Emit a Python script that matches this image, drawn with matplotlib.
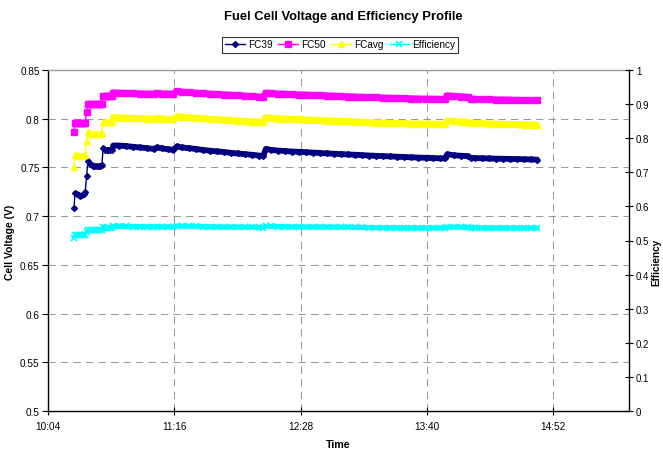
import matplotlib
matplotlib.use("Agg")
import matplotlib.pyplot as plt
import numpy as np

plt.rcParams['font.family'] = ['Liberation Sans', 'DejaVu Sans']

# ---------------- data ----------------
# sample times, minutes after 10:00
minutes = [19.6, 20.2, 21.2, 22.2, 23.2, 24.2, 25.2, 26.0, 26.8,
           27.6, 28.6, 29.6, 30.6, 31.6, 32.6, 33.6, 34.6, 35.5,
           36.2, 37.2, 38.2, 39.2, 40.2, 41.2, 42.0,
           45, 49, 53, 57, 61, 65,
           67, 70, 73, 76,
           78.5, 81, 85, 89,
           93, 97, 101, 105,
           109, 113, 117, 121,
           125, 127.5, 129, 132,
           136, 140, 144, 148,
           152, 156, 160, 164,
           168, 172, 176, 180,
           184, 188, 192, 196,
           200, 204, 208, 212,
           216, 220, 224, 228,
           231, 232.5, 236, 240,
           244, 246, 248, 252,
           256, 260, 264, 268,
           272, 276, 280, 283.6]

fc39 = [0.708, 0.724, 0.723, 0.7215, 0.721, 0.7215, 0.723, 0.7245, 0.741,
        0.757, 0.7535, 0.752, 0.7515, 0.7515, 0.7515, 0.7515, 0.7515, 0.752,
        0.7695, 0.768, 0.7675, 0.7675, 0.768, 0.768, 0.7725,
        0.7725, 0.772, 0.7712, 0.7705, 0.7698, 0.769,
        0.7705, 0.7695, 0.7688, 0.768,
        0.7715, 0.7705, 0.7698, 0.769,
        0.768, 0.7672, 0.7665, 0.7658,
        0.765, 0.7643, 0.7636, 0.763,
        0.7622, 0.7617, 0.769, 0.768,
        0.7673, 0.7668, 0.7663, 0.766,
        0.7656, 0.7652, 0.7648, 0.7644,
        0.764, 0.7637, 0.7633, 0.763,
        0.7626, 0.7622, 0.7619, 0.7616,
        0.7613, 0.761, 0.7607, 0.7604,
        0.7601, 0.7599, 0.7596, 0.7594,
        0.7592, 0.7635, 0.7625, 0.762,
        0.7616, 0.7597, 0.7596, 0.7594,
        0.7592, 0.759, 0.7589, 0.7587,
        0.7586, 0.7584, 0.7582, 0.758]

fc50 = [0.7865, 0.7955, 0.7955, 0.7953, 0.7953, 0.7955, 0.7957, 0.796, 0.807,
        0.8155, 0.815, 0.815, 0.815, 0.815, 0.815, 0.815, 0.815, 0.8152,
        0.8235, 0.823, 0.823, 0.823, 0.823, 0.8232, 0.8268,
        0.8265, 0.8262, 0.826, 0.8258, 0.8256, 0.8255,
        0.8262, 0.8257, 0.8256, 0.8255,
        0.8283, 0.8275, 0.827, 0.8265,
        0.826, 0.8256, 0.8252, 0.8248,
        0.8244, 0.824, 0.8235, 0.823,
        0.8226, 0.8222, 0.8266, 0.826,
        0.8256, 0.8253, 0.825, 0.8248,
        0.8245, 0.8242, 0.824, 0.8237,
        0.8234, 0.8231, 0.8228, 0.8225,
        0.8222, 0.822, 0.8218, 0.8215,
        0.8213, 0.8211, 0.8209, 0.8207,
        0.8205, 0.8204, 0.8203, 0.8202,
        0.82, 0.8238, 0.8232, 0.8228,
        0.8224, 0.8203, 0.8202, 0.82,
        0.8198, 0.8196, 0.8195, 0.8193,
        0.8192, 0.819, 0.8189, 0.8188]

fcavg = [0.7505, 0.763, 0.7625, 0.762, 0.762, 0.762, 0.7625, 0.763, 0.777,
         0.786, 0.785, 0.7845, 0.7845, 0.7845, 0.7845, 0.7845, 0.7845, 0.785,
         0.797, 0.7965, 0.7962, 0.7962, 0.7962, 0.7965, 0.8015,
         0.8012, 0.801, 0.8007, 0.8004, 0.8, 0.7998,
         0.8008, 0.8, 0.7995, 0.7992,
         0.8025, 0.802, 0.8013, 0.8008,
         0.8003, 0.7998, 0.7993, 0.7988,
         0.7984, 0.798, 0.7975, 0.7971,
         0.7967, 0.7964, 0.8015, 0.8008,
         0.8002, 0.7998, 0.7995, 0.7992,
         0.799, 0.7987, 0.7984, 0.7981,
         0.7978, 0.7975, 0.7972, 0.7969,
         0.7966, 0.7963, 0.796, 0.7958,
         0.7956, 0.7954, 0.7952, 0.795,
         0.7949, 0.7948, 0.7947, 0.7946,
         0.7945, 0.798, 0.7975, 0.797,
         0.7966, 0.7955, 0.7954, 0.7952,
         0.795, 0.7948, 0.7946, 0.7944,
         0.7942, 0.794, 0.7938, 0.7937]

efficiency = [0.507, 0.5155, 0.515, 0.515, 0.515, 0.515, 0.515, 0.5155, 0.525,
              0.531, 0.5305, 0.530, 0.530, 0.530, 0.530, 0.530, 0.530, 0.5305,
              0.5385, 0.538, 0.538, 0.538, 0.538, 0.538, 0.5415,
              0.5414, 0.5412, 0.541, 0.5408, 0.5405, 0.5404,
              0.541, 0.5405, 0.5402, 0.54,
              0.5422, 0.5419, 0.5414, 0.5411,
              0.5407, 0.5404, 0.5401, 0.5397,
              0.5395, 0.5392, 0.5389, 0.5386,
              0.5383, 0.5381, 0.5416, 0.5411,
              0.5407, 0.5404, 0.5402, 0.54,
              0.5399, 0.5397, 0.5395, 0.5393,
              0.5391, 0.5389, 0.5386, 0.5384,
              0.5382, 0.538, 0.5378, 0.5377,
              0.5376, 0.5374, 0.5373, 0.5372,
              0.5371, 0.537, 0.537, 0.5369,
              0.5368, 0.5392, 0.5389, 0.5385,
              0.5382, 0.5375, 0.5374, 0.5373,
              0.5372, 0.537, 0.5369, 0.5368,
              0.5366, 0.5365, 0.5364, 0.5363]

x_ticks_labels = ["10:04", "11:16", "12:28", "13:40", "14:52"]
volt_ticks = [0.5, 0.55, 0.6, 0.65, 0.7, 0.75, 0.8, 0.85]
eff_ticks = [0, 0.1, 0.2, 0.3, 0.4, 0.5, 0.6, 0.7, 0.8, 0.9, 1]

# ---------------- plotting ----------------
W, H = 663, 452
fig = plt.figure(figsize=(W / 100, H / 100), dpi=100)
L, R, T, B = 48, 629, 71, 412
ax = fig.add_axes([L / W, 1 - B / H, (R - L) / W, (B - T) / H])
ax2 = ax.twinx()

t = (600 + np.array(minutes)) / 1440.0
main = np.array(minutes) >= 42

GRID = '#9a9a9a'
series = [
    ("FC39", fc39, '#000080', 'D', 3.0, 4.2),
    ("FC50", fc50, '#FF00FF', 's', 4.0, 4.6),
    ("FCavg", fcavg, '#FFFF00', '^', 4.6, 4.6),
]
handles = []
for name, vals, col, mk, ms, bw in series:
    v = np.array(vals)
    ax.plot(t[main], v[main], color=col, lw=bw, solid_capstyle='round',
            solid_joinstyle='round', zorder=3)
    h, = ax.plot(t, v, color=col, lw=1.0, marker=mk, ms=ms, mec=col, mfc=col,
                 zorder=4, label=name)
    handles.append(h)

e = np.array(efficiency)
ax2.plot(t[main], e[main], color='#00FFFF', lw=3.6, solid_capstyle='round', zorder=3)
he, = ax2.plot(t, e, color='#00FFFF', lw=1.0, marker='x', ms=4, mew=1.2,
               zorder=4, label="Efficiency")
handles.append(he)

xt = [0.42 + 0.05 * k for k in range(len(x_ticks_labels))]
ax.set_xlim(0.42, 0.65)
ax.set_xticks(xt)
ax.set_xticklabels(x_ticks_labels)
ax.set_ylim(0.5, 0.85)
ax.set_yticks(volt_ticks)
ax.set_yticklabels([f"{v:g}" for v in volt_ticks])
ax2.set_ylim(0, 1)
ax2.set_yticks(eff_ticks)
ax2.set_yticklabels([f"{v:g}" for v in eff_ticks])

for y in volt_ticks[1:-1]:
    ax.axhline(y, color=GRID, lw=0.75, ls=(0, (7, 5)), zorder=1)
for x in xt[1:]:
    ax.axvline(x, color=GRID, lw=0.75, ls=(0, (7, 5)), zorder=1)

for s in ['left', 'bottom']:
    ax.spines[s].set_color('black')
    ax.spines[s].set_linewidth(1.0)
ax.spines['top'].set_color(GRID)
ax.spines['top'].set_linewidth(1.0)
ax.spines['right'].set_visible(False)
ax2.spines['right'].set_color('black')
ax2.spines['right'].set_linewidth(1.0)
for s in ['left', 'bottom', 'top']:
    ax2.spines[s].set_visible(False)

ax.tick_params(axis='y', direction='out', length=4, width=0.8, labelsize=7.2, pad=2)
ax.tick_params(axis='x', direction='inout', length=6, width=0.8, labelsize=7.2, pad=4)
ax2.tick_params(axis='y', direction='inout', length=6, width=0.8, labelsize=7.0, pad=2)

ax.set_xlabel("Time", fontsize=7.7, fontweight='bold', labelpad=6)
fig.text(10 / W, 1 - 242 / H, "Cell Voltage (V)", rotation=90, ha='center', va='center',
         fontsize=7.5, fontweight='bold')
fig.text(656.5 / W, 1 - 262 / H, "Efficiency", rotation=90, ha='center', va='center',
         fontsize=7.2, fontweight='bold')

fig.text(343 / W, 1 - 17 / H, "Fuel Cell Voltage and Efficiency Profile",
         ha='center', va='center', fontsize=9.4, fontweight='bold')

leg = fig.legend(handles=handles, loc='center', bbox_to_anchor=(340 / W, 1 - 45.5 / H),
                 ncol=4, fontsize=7.2, frameon=True, fancybox=False, shadow=False,
                 handlelength=2.0, handletextpad=0.25, columnspacing=0.6,
                 borderpad=0.3, borderaxespad=0)
leg.get_frame().set_edgecolor('black')
leg.get_frame().set_linewidth(0.8)

fig.savefig("out.png", dpi=100)
